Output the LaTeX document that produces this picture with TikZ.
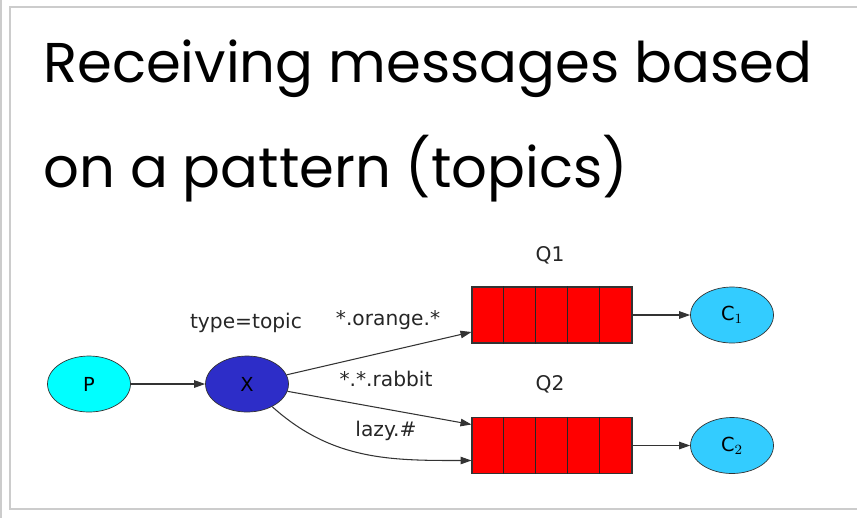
\documentclass[tikz,border=0pt]{standalone}
\usepackage{fontspec}
\setmainfont{Poppins}
\newfontfamily\gvfont{DejaVu Sans}
\usetikzlibrary{arrows.meta,calc,shapes.geometric}
\begin{document}
\begin{tikzpicture}[x=0.02cm,y=-0.02cm]
	\tikzstyle{every node}+=[inner sep=0pt]
	\tikzstyle{ell}=[draw=black!80,ellipse,minimum width=1.66cm,minimum height=1.12cm,font=\gvfont\fontsize{11}{13}\selectfont]
	\tikzstyle{queue}=[draw=black!80,line width=0.6pt,fill=red,minimum width=3.2cm,minimum height=1.12cm]
	\tikzstyle{lbl}=[font=\gvfont\fontsize{11.5}{13}\selectfont,text=black!85]
	\tikzstyle{edge}=[draw=black!80,line width=0.6pt,-{Triangle[length=2.2mm,width=1.5mm]}]
	\useasboundingbox (0,0) rectangle (857,518);
	% frame
	\draw [black!20,line width=1.2pt] (1,0) -- (1,518);
	\draw [black!20,line width=1.2pt] (10,7) rectangle (880,509);
	% title
	\node [anchor=base west,font=\fontsize{31.9}{40}\selectfont] (t1) at (43,82) {Receiving messages based};
	\node [anchor=base west,font=\fontsize{31.9}{40}\selectfont] (t2) at (43,187) {on a pattern (topics)};
	% nodes
	\node [ell,fill={rgb,255:red,0;green,255;blue,255}] (p) at (89,384) {P};
	\node [ell,fill={rgb,255:red,45;green,45;blue,200}] (x) at (247,384) {X};
	\node [queue] (q1) at (552,315) {};
	\node [queue] (q2) at (552,445.5) {};
	\foreach \q in {q1,q2}
		\foreach \i in {1,2,3,4}
			\draw [black!85,line width=0.7pt] ($(\q.north west)+(32*\i,0)$) -- ($(\q.south west)+(32*\i,0)$);
	\node [ell,fill={rgb,255:red,51;green,204;blue,255}] (c1) at (732,315) {C$_{\scriptstyle 1}$};
	\node [ell,fill={rgb,255:red,51;green,204;blue,255}] (c2) at (732,445.5) {C$_{\scriptstyle 2}$};
	\node [lbl] (q1l) at (550,255) {Q1};
	\node [lbl] (q2l) at (550,384) {Q2};
	\node [lbl] (tl) at (246,323) {type=topic};
	% edges
	\coordinate (e1) at ($(q1.west)+(0,17)$);
	\coordinate (e2) at ($(q2.west)+(0,-21)$);
	\coordinate (e3) at ($(q2.west)+(0,15)$);
	\draw [edge] (p) -- (x);
	\draw [edge] (x) -- (e1);
	\draw [edge] (x) -- (e2);
	\draw [edge] (x) to[out=-42,in=180] (e3);
	\draw [edge] (q1) -- (c1);
	\draw [edge] (q2) -- (c2);
	\node [lbl] (l1) at (388,320) {*.orange.*};
	\node [lbl] (l2) at (386,379) {*.*.rabbit};
	\node [lbl] (l3) at (386,431) {lazy.\#};
\end{tikzpicture}
\end{document}
